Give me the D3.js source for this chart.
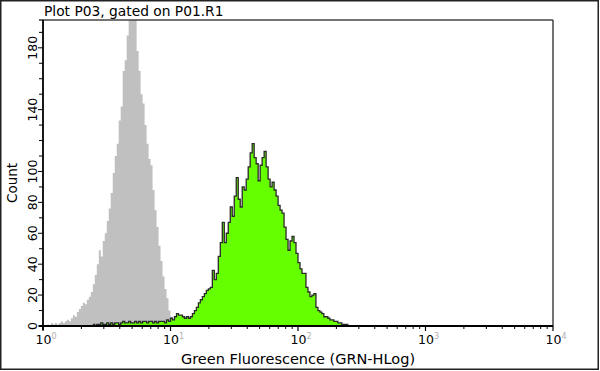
<!DOCTYPE html>
<html><head><meta charset="utf-8">
<script src="https://cdn.jsdelivr.net/npm/d3@7"></script>
<style>
html,body{margin:0;padding:0;background:#fff;}
svg{display:block;font-family:"DejaVu Sans",Verdana,sans-serif;}
</style></head>
<body>
<svg id="chart" width="600" height="371"></svg>
<script>
// Data: histogram counts per channel (256 channels over 4 decades, 64 per decade)
const title = "Plot P03, gated on P01.R1";
const xTitle = "Green Fluorescence (GRN-HLog)";
const yTitle = "Count";
const channelsPerDecade = 64;
const xDecades = [0, 1, 2, 3, 4];
const yTicks = [0,10,20,30,40,50,60,70,80,90,100,110,120,130,140,150,160,170,180,190];
const yLabels = [0,20,40,60,80,100,140,180];

const grayStart = 0;
const grayCounts = [
  0,0,1,0,2,1,2,1,2,3, 2,3,4,3,5,7,6,9,11,13,
  15,14,17,19,22,27,33,40,49,45, 55,60,68,76,86,99,110,118,133,142,
  165,172,188,210,230,205,215,178,165,150, 144,130,118,108,104,88,75,64,52,42,
  32,24,18,10,6,4,3,2,3,2, 4,3,2,3,2,3,2,4,2,3,
  2,3,2,2,3,2,4,2,3,2, 2,3,2,3,2,2,3,2,2,3,
  2,2,3,2,2,3,2,2,2,3, 2,2,3,2,2,2,3,2,2,2,
  2,3,2,2,2,2,3,2,2,2, 2,2,1,2,2,1,2,1,1,2,
  1,1,1,0,1,1,0,1,0,0
];

const greenStart = 25;
const greenCounts = [
  1,0,1,1,2,1,1,2,1,2, 1,2,2,1,2,3,2,2,3,2,
  2,3,2,3,2,3,3,2,3,3, 2,3,2,3,3,
  3,2,4,3,5,4,6,8,7,7, 6,5,6,5,6,8,10,12,15,17,
  19,21,23,24,25,36,30,34,45,54, 67,54,60,67,77,71,84,96,82,77,
  90,88,95,103,112,118,109,105,94,104, 109,113,103,95,90,93,88,84,78,75,
  73,64,56,49,55,58,54,47,41,37, 34,34,25,22,19,20,21,12,10,9,
  8,6,6,5,4,4,3,3,2,2, 1,1,1,0
];

const W = 600, H = 371;
const plot = {left: 43, right: 553, top: 20, bottom: 326};

const svg = d3.select("#chart");

const x = d3.scaleLog().domain([1, 10000]).range([plot.left, plot.right]);
const y = d3.scaleLinear().domain([0, 198]).range([plot.bottom, plot.top]);

const chToVal = ch => Math.pow(10, ch / channelsPerDecade);

function toBins(start, counts) {
  const pts = counts.map((c, i) => ({v: chToVal(start + i), c}));
  pts.push({v: chToVal(start + counts.length), c: counts[counts.length - 1]});
  return pts;
}

svg.append("defs").append("clipPath").attr("id", "clip")
  .append("rect").attr("x", plot.left).attr("y", plot.top)
  .attr("width", plot.right - plot.left).attr("height", plot.bottom - plot.top);

const area = d3.area().curve(d3.curveStepAfter)
  .x(d => x(d.v)).y0(y(0)).y1(d => y(d.c));
const line = d3.line().curve(d3.curveStepAfter)
  .x(d => x(d.v)).y(d => y(d.c));

const g = svg.append("g").attr("clip-path", "url(#clip)");
const grayBins = toBins(grayStart, grayCounts);
const greenBins = toBins(greenStart, greenCounts);

g.append("path").datum(grayBins).attr("d", area).attr("fill", "#c0c0c0");
g.append("path").datum(greenBins).attr("d", area).attr("fill", "#66ff00");
g.append("path").datum(greenBins).attr("d", line)
  .attr("fill", "none").attr("stroke", "#2a2a2a").attr("stroke-width", 1.3);

// Frame
svg.append("line").attr("x1", plot.left).attr("x2", plot.right).attr("y1", plot.top).attr("y2", plot.top)
  .attr("stroke", "#444").attr("stroke-width", 1.5);
svg.append("line").attr("x1", plot.right).attr("x2", plot.right).attr("y1", plot.top).attr("y2", plot.bottom)
  .attr("stroke", "#444").attr("stroke-width", 1.5);

// X axis
const xMinor = [];
for (let d = 0; d < 4; d++) for (let k = 2; k <= 9; k++) xMinor.push(k * Math.pow(10, d));
const xAxisG = svg.append("g");
xAxisG.selectAll("line.minor").data(xMinor).join("line")
  .attr("x1", d => x(d)).attr("x2", d => x(d))
  .attr("y1", plot.bottom).attr("y2", plot.bottom + 3)
  .attr("stroke", "#000").attr("stroke-width", 1);
xAxisG.selectAll("line.major").data(xDecades).join("line")
  .attr("x1", d => x(Math.pow(10, d))).attr("x2", d => x(Math.pow(10, d)))
  .attr("y1", plot.bottom).attr("y2", plot.bottom + 5)
  .attr("stroke", "#000").attr("stroke-width", 1.2);
xAxisG.append("line").attr("x1", plot.left - 4).attr("x2", plot.right)
  .attr("y1", plot.bottom).attr("y2", plot.bottom).attr("stroke", "#000").attr("stroke-width", 1.8);
const xl = xAxisG.selectAll("text").data(xDecades).join("text")
  .attr("x", d => x(Math.pow(10, d)) + 3).attr("y", 344)
  .attr("text-anchor", "middle").attr("font-size", 12.5).attr("fill", "#000");
xl.append("tspan").text("10");
xl.append("tspan").attr("dy", -5).attr("font-size", 8).attr("fill", "#b0b0b0").text(d => d);

// Y axis
const yAxisG = svg.append("g");
yAxisG.selectAll("line").data(yTicks).join("line")
  .attr("x1", d => plot.left - (yLabels.includes(d) ? 5 : 4)).attr("x2", plot.left)
  .attr("y1", d => y(d)).attr("y2", d => y(d))
  .attr("stroke", "#000").attr("stroke-width", 1);
yAxisG.append("line").attr("x1", plot.left).attr("x2", plot.left)
  .attr("y1", plot.top).attr("y2", plot.bottom + 4).attr("stroke", "#000").attr("stroke-width", 1.8);
yAxisG.append("line").attr("x1", plot.left - 4).attr("x2", plot.left)
  .attr("y1", plot.top).attr("y2", plot.top).attr("stroke", "#000").attr("stroke-width", 1.2);
yAxisG.selectAll("text").data(yLabels).join("text")
  .attr("transform", d => `translate(37,${y(d)}) rotate(-90)`)
  .attr("text-anchor", "middle").attr("font-size", 12.5).attr("fill", "#000")
  .text(d => d);

// Titles
svg.append("text").attr("x", 44).attr("y", 16).attr("font-size", 13.8).attr("fill", "#000").text(title);
svg.append("text").attr("x", 298).attr("y", 364).attr("text-anchor", "middle")
  .attr("font-size", 14.5).attr("fill", "#000").text(xTitle);
svg.append("text").attr("transform", `translate(17,${(plot.top + plot.bottom) / 2 + 10}) rotate(-90)`)
  .attr("text-anchor", "middle").attr("font-size", 13.5).attr("fill", "#000").text(yTitle);

// Outer border
svg.append("rect").attr("x", 0.75).attr("y", 0.75).attr("width", W - 2.5).attr("height", H - 2.5)
  .attr("fill", "none").attr("stroke", "#222").attr("stroke-width", 1.5);
</script>
</body></html>
